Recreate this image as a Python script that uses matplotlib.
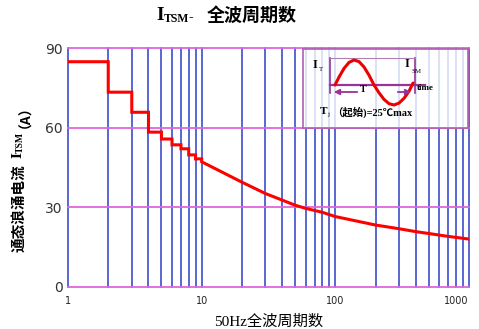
import numpy as np
import matplotlib
matplotlib.use('Agg')
import matplotlib.pyplot as plt

plt.rcParams['font.family'] = ['DejaVu Sans', 'Noto Sans CJK SC']

# step part of the surge curve (1..10 cycles)
step_x = [1, 2, 3, 4, 5, 6, 7, 8, 9, 10]
step_y = [85, 73.5, 65.9, 58.4, 55.8, 53.6, 52.1, 49.8, 48.3, 48.3]
# continuous part (10..1000 cycles)
curve_x = [10, 20, 30, 50, 60, 80, 100, 200, 300, 400, 500, 700, 1000]
curve_y = [47.2, 39.5, 35.2, 30.8, 29.6, 28.1, 26.5, 23.3, 21.9, 20.8, 20.1, 19.0, 18.0]

y_ticks = [0, 30, 60, 90]
x_ticks = [1, 10, 100, 1000]
x_grid = [1, 2, 3, 4, 5, 6, 7, 8, 9, 10, 20, 30, 40, 50, 60, 70, 80, 90, 100,
          200, 300, 400, 500, 600, 700, 800, 900, 1000]

# inset sketch (local pixel coords)
wave_x = [32, 36, 41, 46, 51, 56, 61, 66, 71, 76, 81, 86, 91, 96, 101, 106, 110]
wave_y = [36, 28.1, 19.4, 13.4, 11, 12.6, 18, 26.2, 36, 43.8, 50.4, 54.7, 56, 54.1, 49.3, 42.3, 34]

BLUE = '#2b3ec6'
MAG = '#dd66dd'
PURP = '#993399'
SERIF_CJK = ['Liberation Serif', 'Noto Sans CJK SC']

fig = plt.figure(figsize=(4.79, 3.29), dpi=100)
ax = fig.add_axes([0.142, 0.1286, 0.837, 0.724])
ax.set_xscale('log')
ax.set_xlim(1, 1000)
ax.set_ylim(0, 90)

for gx in x_grid:
    ax.axvline(gx, color=BLUE, lw=1.1, zorder=1, clip_on=False)
for gy in y_ticks:
    ax.axhline(gy, color=MAG, lw=1.3, zorder=2, clip_on=False)

# build the red line: steps, then the smooth tail
lx, ly = [], []
for i in range(len(step_x) - 1):
    lx += [step_x[i], step_x[i + 1]]
    ly += [step_y[i], step_y[i]]
lx += curve_x
ly += curve_y
ax.plot(lx, ly, color='#ff0000', lw=2.2, zorder=3, solid_joinstyle='miter')

for s in ax.spines.values():
    s.set_visible(False)
ax.set_yticks(y_ticks)
ax.set_yticklabels([str(v) for v in y_ticks], fontsize=10, color='#333333')
ax.set_xticks(x_ticks)
ax.set_xticklabels([str(v) for v in x_ticks], fontsize=7, color='#222222')
ax.xaxis.set_minor_locator(matplotlib.ticker.NullLocator())
ax.tick_params(length=0, pad=4)
ax.tick_params(axis='x', pad=7)
ax.get_xticklabels()[-1].set_horizontalalignment('right')

ax.set_xlabel('50Hz全波周期数', family=SERIF_CJK, fontsize=11, labelpad=6)

# y label, built from pieces (rotated)
fig.text(18 / 479, 1 - 208 / 329, '通态浪涌电流', family='Noto Sans CJK SC', fontweight='bold',
         fontsize=10.5, rotation=90, ha='center', va='center')
fig.text(18 / 479, 1 - 155 / 329, 'I', family='Liberation Serif', fontweight='bold',
         fontsize=11, rotation=90, ha='center', va='center')
fig.text(20 / 479, 1 - 142 / 329, 'TSM', family='Liberation Serif', fontweight='bold',
         fontsize=7, rotation=90, ha='center', va='center')
fig.text(18 / 479, 1 - 110 / 329, '（A）', family='Noto Sans CJK SC', fontweight='bold',
         fontsize=10, rotation=90, ha='center', va='center')

# title
fig.text(0.327, 0.953, 'I', family='Liberation Serif', fontweight='bold', fontsize=14, va='center')
fig.text(0.341, 0.942, 'TSM', family='Liberation Serif', fontweight='bold', fontsize=8.5, va='center')
fig.text(0.393, 0.947, '-', family='Liberation Serif', fontweight='bold', fontsize=10, va='center')
fig.text(0.432, 0.953, '全波周期数', family='Noto Sans CJK SC', fontweight='bold', fontsize=13, va='center')

# inset sketch
ins = fig.add_axes([0.6326, 0.611, 0.3445, 0.240])
ins.set_xlim(0, 165)
ins.set_ylim(79, 0)
ins.patch.set_facecolor('white')
ins.patch.set_alpha(0.8)
ins.set_xticks([])
ins.set_yticks([])
for s in ins.spines.values():
    s.set_color('#b060b0')
    s.set_linestyle((0, (1, 1)))
    s.set_linewidth(1.2)

ins.plot([27, 122], [36, 36], color=PURP, lw=1.6)
ins.plot([27, 27], [9, 44], color=PURP, lw=1.2)
ins.plot([112, 112], [9, 44], color=PURP, lw=1.2)
ins.plot([27, 112], [9, 9], color='#b080b0', lw=0.8)
ins.plot(wave_x, wave_y, color='#ee0000', lw=2.2, solid_capstyle='round')
ins.annotate('', xy=(28, 43), xytext=(57, 43),
             arrowprops=dict(arrowstyle='-|>', color=PURP, lw=1.3, mutation_scale=8))
ins.annotate('', xy=(111, 43), xytext=(92, 43),
             arrowprops=dict(arrowstyle='-|>', color=PURP, lw=1.3, mutation_scale=8))
ins.text(60, 40, 'T', family='Liberation Serif', fontweight='bold', fontsize=7, ha='center', va='center')
ins.text(10, 16, 'I', family='Liberation Serif', fontweight='bold', fontsize=9, va='center')
ins.text(16, 20, 'T', family='Liberation Serif', fontsize=5, va='center')
ins.text(102, 15, 'I', family='Liberation Serif', fontweight='bold', fontsize=9, va='center')
ins.text(108, 22, 'SM', family='Liberation Serif', fontsize=5, va='center')
ins.text(114, 39, 'time', family='Liberation Serif', fontweight='bold', fontsize=6.5, va='center')
ins.text(17, 63, 'T', family='Liberation Serif', fontweight='bold', fontsize=8, va='center')
ins.text(24, 66, 'j', family='Liberation Serif', fontsize=5, va='center')
ins.text(29, 63, '（起始)=25℃max', family=SERIF_CJK, fontweight='bold', fontsize=7.5, va='center')

fig.savefig('out.png', dpi=100)
